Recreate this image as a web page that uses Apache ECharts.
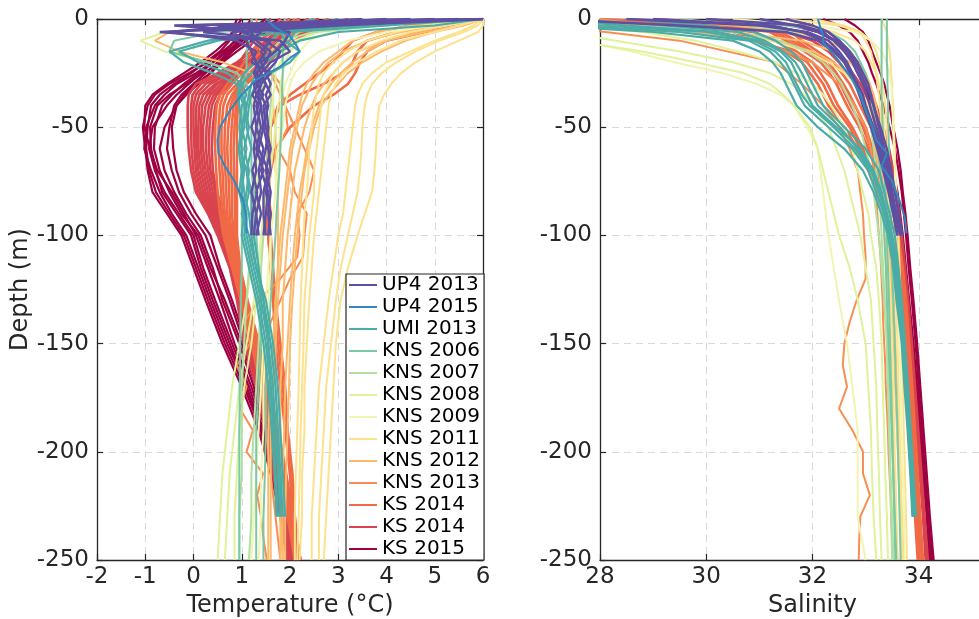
<!DOCTYPE html>
<html>
<head>
<meta charset="utf-8">
<script src="https://cdn.jsdelivr.net/npm/echarts@6/dist/echarts.min.js"></script>
<style>
html,body{margin:0;padding:0;background:#fff;}
#chart{width:979px;height:619px;}
</style>
</head>
<body>
<div id="chart"></div>
<script>
// Standard sampling depths (m, negative downward)
const depthLevels = [0,-3,-6,-10,-15,-20,-25,-30,-35,-40,-50,-60,-70,-80,-90,-100,-115,-130,-150,-170,-190,-210,-230,-250];
const up4_2015Depth = [0,-4,-8,-11,-15,-18,-22,-28,-35,-42,-50,-56,-62,-68,-75,-84,-92,-99];
const kns2013Depth = [0,-10,-20,-30,-40,-50,-60,-70,-80,-90,-100,-110,-120,-130,-140,-150,-160,-170,-180,-190,-200,-210,-220,-230,-240,-250];

// Axis ticks
const tempTicks = [-2,-1,0,1,2,3,4,5,6];
const salTicks = [28,30,32,34,36];
const depthTicks = [-250,-200,-150,-100,-50,0];

// Legend entries (display order)
const legendNames = ['UP4 2013','UP4 2015','UMI 2013','KNS 2006','KNS 2007','KNS 2008','KNS 2009','KNS 2011','KNS 2012','KNS 2013','KS 2014','KS 2014 ','KS 2015'];
const legendColors = ['#5e4fa2','#3288bd','#4aaca6','#78c9a4','#b2dfa1','#e0f29a','#f2f4b1','#fde28e','#fdb96b','#f98e52','#f06a45','#d8434e','#9e0142'];

// ---- Temperature profiles (°C) ----
const ks2015Temp = [
  [1.5,1.3,1.1,0.9,0.6,0.3,-0.1,-0.5,-0.8,-0.95,-1.05,-1.0,-0.95,-0.85,-0.55,-0.25,0.0,0.25,0.6,1.0,1.35,1.6,1.8,1.95],
  [2.0,1.6,1.3,1.0,0.7,0.4,0.05,-0.35,-0.6,-0.8,-0.98,-1.02,-0.88,-0.7,-0.45,-0.15,0.1,0.35,0.7,1.1,1.4,1.65,1.85,2.0],
  [1.2,1.1,1.0,0.85,0.65,0.4,0.15,-0.1,-0.35,-0.55,-0.85,-0.92,-0.8,-0.6,-0.3,0.0,0.2,0.45,0.8,1.15,1.45,1.7,1.9,2.05],
  [2.6,2.0,1.5,1.1,0.8,0.55,0.35,0.1,-0.15,-0.35,-0.6,-0.7,-0.6,-0.4,-0.15,0.15,0.4,0.6,0.95,1.25,1.5,1.75,1.95,2.1],
  [0.9,0.85,0.8,0.7,0.45,0.15,-0.2,-0.55,-0.85,-1.0,-1.02,-0.9,-0.75,-0.45,-0.2,0.05,0.3,0.55,0.85,1.2,1.5,1.72,1.9,2.08],
  [1.8,1.5,1.2,0.95,0.7,0.4,0.1,-0.2,-0.45,-0.65,-0.8,-0.82,-0.7,-0.5,-0.25,0.1,0.35,0.65,1.0,1.3,1.55,1.78,1.98,2.15],
  [2.2,1.8,1.4,1.0,0.75,0.5,0.25,0.0,-0.25,-0.4,-0.5,-0.55,-0.45,-0.3,-0.05,0.25,0.5,0.75,1.05,1.35,1.6,1.82,2.0,2.2],
  [1.0,0.9,0.8,0.75,0.55,0.25,-0.05,-0.4,-0.7,-0.88,-0.95,-0.98,-0.92,-0.78,-0.5,-0.2,0.05,0.3,0.65,1.05,1.4,1.62,1.82,2.0],
  [1.6,1.4,1.2,1.0,0.8,0.6,0.35,0.05,-0.2,-0.35,-0.45,-0.42,-0.35,-0.2,0.05,0.35,0.55,0.8,1.1,1.4,1.65,1.85,2.05,2.22],
  [2.4,1.9,1.5,1.2,0.9,0.6,0.2,-0.15,-0.5,-0.75,-0.9,-0.88,-0.78,-0.65,-0.35,-0.05,0.15,0.4,0.75,1.1,1.42,1.66,1.86,2.02]
];
const ks2014bTemp = [
  [2.0,1.8,1.6,1.4,1.2,0.9,0.5,0.05,-0.1,-0.12,-0.12,-0.1,-0.05,0.05,0.3,0.5,0.75,0.9,1.05,1.3,1.5,1.65,1.8,1.95],
  [2.4,2.1,1.8,1.55,1.3,1.0,0.6,0.15,-0.02,-0.05,-0.05,-0.04,0.0,0.1,0.34,0.55,0.78,0.93,1.1,1.33,1.52,1.68,1.83,1.98],
  [2.8,2.4,2.0,1.7,1.4,1.1,0.7,0.25,0.05,0.0,0.0,0.02,0.05,0.15,0.38,0.58,0.8,0.95,1.12,1.35,1.55,1.7,1.85,2.0],
  [1.6,1.5,1.4,1.25,1.1,0.95,0.75,0.35,0.12,0.06,0.05,0.06,0.1,0.2,0.42,0.62,0.83,0.97,1.15,1.38,1.58,1.72,1.88,2.03],
  [3.2,2.8,2.3,1.9,1.6,1.3,0.9,0.45,0.2,0.12,0.1,0.1,0.15,0.25,0.45,0.65,0.85,0.98,1.18,1.4,1.6,1.75,1.9,2.05],
  [2.2,1.9,1.7,1.5,1.25,1.05,0.8,0.5,0.28,0.18,0.15,0.15,0.2,0.3,0.48,0.68,0.87,1.0,1.2,1.43,1.62,1.78,1.93,2.08],
  [2.6,2.2,1.9,1.6,1.35,1.15,0.9,0.58,0.35,0.25,0.2,0.2,0.25,0.35,0.52,0.72,0.88,1.0,1.22,1.45,1.65,1.8,1.95,2.1],
  [3.0,2.6,2.2,1.8,1.5,1.25,1.0,0.65,0.42,0.32,0.27,0.26,0.3,0.4,0.56,0.76,0.9,1.02,1.25,1.47,1.67,1.82,1.97,2.12],
  [2.5,2.2,1.9,1.65,1.45,1.25,1.05,0.7,0.48,0.38,0.33,0.32,0.35,0.45,0.6,0.8,0.92,1.03,1.28,1.5,1.7,1.85,2.0,2.15],
  [1.9,1.8,1.7,1.55,1.4,1.2,1.0,0.75,0.55,0.45,0.4,0.38,0.4,0.48,0.63,0.83,0.94,1.05,1.3,1.52,1.72,1.87,2.02,2.17]
];
const ks2014aTemp = [
  [2.0,1.8,1.6,1.4,1.2,1.05,0.9,0.7,0.55,0.48,0.45,0.45,0.47,0.5,0.55,0.62,0.8,0.98,1.2,1.4,1.6,1.8,1.95,2.1],
  [2.2,2.0,1.8,1.6,1.4,1.2,1.0,0.8,0.62,0.55,0.52,0.52,0.54,0.57,0.6,0.67,0.83,1.0,1.22,1.42,1.62,1.8,1.96,2.11],
  [2.5,2.3,2.1,1.9,1.65,1.4,1.15,0.9,0.7,0.62,0.58,0.58,0.6,0.62,0.65,0.71,0.85,1.02,1.25,1.45,1.65,1.82,1.97,2.12],
  [1.8,1.7,1.55,1.4,1.3,1.2,1.05,0.95,0.8,0.7,0.65,0.64,0.66,0.68,0.7,0.75,0.88,1.04,1.28,1.48,1.68,1.84,1.99,2.14],
  [2.8,2.5,2.2,1.95,1.7,1.45,1.2,1.0,0.85,0.77,0.72,0.7,0.72,0.74,0.75,0.79,0.9,1.06,1.3,1.5,1.7,1.86,2.01,2.16],
  [2.4,2.2,2.0,1.8,1.6,1.4,1.25,1.05,0.9,0.83,0.79,0.77,0.78,0.8,0.8,0.83,0.93,1.08,1.32,1.52,1.72,1.88,2.03,2.18],
  [3.0,2.7,2.4,2.1,1.8,1.55,1.35,1.1,0.95,0.88,0.85,0.83,0.84,0.86,0.86,0.87,0.95,1.1,1.34,1.54,1.74,1.9,2.05,2.2],
  [2.1,1.95,1.8,1.65,1.5,1.35,1.2,1.05,0.95,0.92,0.9,0.9,0.9,0.9,0.9,0.9,0.97,1.12,1.36,1.56,1.76,1.92,2.07,2.22],
  [6.0,5.0,4.2,3.6,3.4,3.3,3.1,2.7,2.2,1.8,1.6,1.55,1.5,1.5,1.5,1.55,1.6,1.65,1.7,1.8,1.9,2.0,2.05,2.1],
  [5.5,4.5,3.8,3.3,3.1,2.9,2.6,2.3,2.0,1.75,1.6,1.6,1.55,1.5,1.55,1.55,1.6,1.65,1.75,1.85,1.95,2.0,2.1,2.15],
  [6.0,5.5,4.8,4.0,3.6,3.45,3.35,3.2,2.9,2.5,2.0,1.7,1.6,1.55,1.6,1.6,1.65,1.7,1.8,1.9,1.95,2.05,2.1,2.2]
];
const kns2013Temp = [
  [1.3,1.4,1.45,1.8,1.9,1.95,1.75,2.0,2.1,2.35,2.3,2.27,2.0,1.8,1.6,1.5,1.45,1.4,1.45,1.5,1.55,1.6,1.65,1.7,1.75,1.8],
  [1.2,1.3,1.5,1.7,1.9,2.1,2.3,2.5,2.4,2.15,2.2,2.15,1.8,1.35,1.05,1.17,0.9,1.1,0.96,1.23,1.1,1.44,1.32,1.4,1.45,1.52]
];
const kns2012Temp = [
  [6.0,2.0,-0.5,-0.8,-0.3,0.6,1.2,1.5,1.6,1.65,1.7,1.7,1.7,1.75,1.75,1.75,1.75,1.7,1.7,1.7,1.75,1.8,1.8,1.85],
  [6.0,5.5,4.8,4.0,3.4,3.1,2.9,2.7,2.55,2.45,2.3,2.2,2.1,2.05,2.0,1.95,1.9,1.85,1.85,1.8,1.8,1.8,1.8,1.8],
  [5.5,5.0,4.3,3.6,3.1,2.8,2.6,2.45,2.35,2.25,2.15,2.05,2.0,1.95,1.9,1.85,1.8,1.75,1.7,1.65,1.6,1.6,1.6,1.6],
  [6.0,4.5,3.8,3.3,3.0,2.7,2.5,2.35,2.25,2.2,2.1,2.0,1.95,1.9,1.85,1.8,1.75,1.7,1.65,1.6,1.55,1.55,1.55,1.55],
  [6.0,5.6,5.0,4.4,3.9,3.5,3.2,3.0,2.8,2.65,2.5,2.4,2.3,2.25,2.2,2.15,2.1,2.05,2.0,1.98,1.95,1.92,1.9,1.9],
  [5.8,5.2,4.6,4.0,3.6,3.3,3.05,2.85,2.7,2.6,2.45,2.35,2.28,2.2,2.15,2.1,2.05,2.0,1.95,1.9,1.88,1.85,1.85,1.85]
];
const kns2011Temp = [
  [6.0,6.0,5.9,5.5,5.0,4.6,4.3,4.1,3.95,3.85,3.8,3.78,3.75,3.7,3.55,3.4,3.2,3.05,2.95,2.9,2.85,2.8,2.75,2.7],
  [6.0,5.8,5.5,5.0,4.5,4.0,3.7,3.5,3.4,3.35,3.3,3.25,3.2,3.15,3.1,3.0,2.9,2.8,2.7,2.6,2.55,2.5,2.45,2.45],
  [6.0,5.5,5.0,4.3,3.8,3.4,3.1,2.95,2.85,2.8,2.75,2.7,2.65,2.6,2.55,2.5,2.45,2.4,2.35,2.3,2.3,2.25,2.25,2.2],
  [5.5,4.8,4.2,3.6,3.2,2.9,2.7,2.6,2.55,2.5,2.45,2.4,2.38,2.35,2.3,2.28,2.25,2.22,2.2,2.18,2.15,2.12,2.1,2.1],
  [6.0,5.2,4.5,3.9,3.4,3.1,2.9,2.8,2.7,2.65,2.6,2.55,2.5,2.5,2.45,2.4,2.35,2.3,2.28,2.25,2.22,2.2,2.18,2.15],
  [6.0,5.9,5.6,5.1,4.6,4.2,3.9,3.7,3.6,3.55,3.5,3.48,3.45,3.4,3.3,3.2,3.05,2.95,2.85,2.75,2.7,2.65,2.6,2.6]
];
const kns2009Temp = [
  [6.0,5.0,4.0,3.2,2.6,2.3,2.1,2.0,1.95,1.9,1.85,1.8,1.75,1.7,1.65,1.6,1.55,1.5,1.45,1.4,1.35,1.3,1.25,1.2],
  [4.5,3.5,2.8,2.4,2.2,2.1,2.0,1.9,1.85,1.8,1.8,1.75,1.7,1.7,1.65,1.6,1.6,1.55,1.5,1.45,1.45,1.4,1.4,1.35]
];
const kns2008Temp = [
  [6.0,2.5,-0.6,-1.1,-0.6,0.3,0.9,1.1,1.2,1.25,1.3,1.35,1.35,1.3,1.3,1.25,1.2,1.1,0.95,0.8,0.7,0.6,0.55,0.5],
  [4.0,3.0,2.5,2.2,2.0,1.9,1.85,1.8,1.8,1.75,1.7,1.65,1.6,1.55,1.5,1.45,1.35,1.25,1.1,0.95,0.85,0.75,0.7,0.65],
  [5.0,3.5,2.6,2.1,1.9,1.8,1.7,1.7,1.65,1.65,1.6,1.6,1.55,1.5,1.45,1.4,1.35,1.3,1.2,1.05,0.95,0.9,0.85,0.85]
];
const kns2007Temp = [
  [5.5,4.0,2.5,1.8,1.6,1.5,1.5,1.45,1.4,1.4,1.35,1.3,1.3,1.25,1.2,1.2,1.15,1.1,1.05,1.0,1.0,1.0,0.95,0.95],
  [3.5,2.8,2.2,1.9,1.75,1.7,1.65,1.6,1.6,1.6,1.55,1.55,1.5,1.5,1.45,1.45,1.4,1.4,1.35,1.3,1.25,1.2,1.2,1.15]
];
const kns2006Temp = [
  [1.2,1.2,1.15,1.15,1.1,1.1,1.1,1.05,1.05,1.05,1.0,1.0,1.0,1.0,1.0,1.0,1.0,0.98,0.97,0.96,0.95,0.95,0.95,0.95],
  [1.9,1.88,1.87,1.86,1.85,1.85,1.85,1.84,1.84,1.83,1.82,1.8,1.78,1.75,1.72,1.7,1.65,1.6,1.55,1.5,1.5,1.48,1.45,1.45],
  [6.0,3.0,0.5,-0.4,-0.5,0.3,0.9,1.1,1.15,1.2,1.2,1.2,1.2,1.25,1.25,1.3,1.35,1.4,1.4,1.35,1.3,1.3,1.3,1.3]
];
const umi2013Temp = [
  [6.0,4.0,2.0,0.5,-0.3,0.1,0.7,1.0,1.1,1.0,0.95,1.0,1.05,1.0,1.1,1.05,1.2,1.35,1.5,1.6,1.65,1.7,1.75],
  [5.0,3.5,1.5,0.3,-0.5,-0.2,0.4,0.9,1.0,1.1,1.05,0.95,1.1,1.15,1.05,1.1,1.25,1.4,1.55,1.65,1.7,1.8,1.85],
  [4.0,2.5,1.8,1.6,1.5,1.4,1.3,1.2,1.15,1.1,1.0,1.1,1.0,1.05,1.15,1.2,1.3,1.45,1.6,1.7,1.75,1.8,1.8],
  [6.0,5.0,3.0,2.2,1.8,1.5,1.2,1.0,0.95,1.05,1.15,1.05,1.15,1.1,1.0,1.15,1.3,1.5,1.65,1.75,1.8,1.85,1.9],
  [2.5,2.0,1.8,1.9,2.2,2.0,1.6,1.3,1.2,1.15,1.1,1.2,1.1,1.2,1.2,1.25,1.35,1.45,1.55,1.6,1.7,1.75,1.8],
  [3.0,2.4,2.1,2.0,1.7,1.3,1.05,0.95,0.92,0.95,1.0,0.93,1.0,0.95,1.05,1.0,1.15,1.3,1.45,1.55,1.62,1.68,1.72]
];
const up4_2013Temp = [
  [6.0,2.5,-0.7,1.6,1.4,1.5,1.3,1.4,1.35,1.4,1.3,1.45,1.35,1.4,1.3,1.35],
  [5.5,0.5,2.0,1.9,1.7,1.4,1.5,1.3,1.45,1.3,1.4,1.3,1.45,1.3,1.4,1.3],
  [4.5,-0.2,1.2,1.3,1.6,1.5,1.3,1.5,1.4,1.5,1.55,1.5,1.4,1.55,1.5,1.45],
  [6.0,3.0,0.8,1.1,1.2,1.3,1.4,1.25,1.3,1.25,1.3,1.25,1.3,1.2,1.3,1.25],
  [5.0,1.5,0.2,1.8,2.0,1.6,1.4,1.5,1.6,1.45,1.5,1.6,1.5,1.6,1.55,1.6],
  [3.5,1.0,-0.5,0.9,1.3,1.2,1.6,1.4,1.3,1.4,1.45,1.35,1.55,1.45,1.45,1.5],
  [4.0,2.0,1.0,1.5,1.8,1.7,1.5,1.6,1.5,1.55,1.45,1.55,1.6,1.5,1.6,1.55],
  [6.0,-0.4,1.4,1.2,1.5,1.35,1.25,1.35,1.22,1.35,1.2,1.35,1.22,1.32,1.22,1.2]
];
const up4_2015Temp = [
  [1.5,1.7,2.0,2.1,2.2,2.0,1.8,1.3,1.0,0.76,0.55,0.5,0.52,0.65,0.85,1.03,1.1,1.1]
];

// ---- Salinity profiles ----
const ks2015Sal = [
  [31.5,32.0,32.3,32.5,32.65,32.8,32.9,33.0,33.08,33.15,33.3,33.42,33.52,33.6,33.65,33.7,33.76,33.82,33.9,33.97,34.03,34.1,34.16,34.22],
  [32.2,32.5,32.7,32.85,32.95,33.05,33.12,33.2,33.27,33.33,33.45,33.55,33.62,33.68,33.72,33.76,33.81,33.87,33.94,34.0,34.06,34.12,34.18,34.25],
  [30.5,31.6,32.1,32.4,32.6,32.75,32.85,32.95,33.05,33.12,33.25,33.38,33.48,33.56,33.62,33.68,33.74,33.8,33.88,33.95,34.02,34.08,34.15,34.2],
  [32.6,32.8,32.95,33.05,33.12,33.2,33.28,33.35,33.4,33.45,33.52,33.6,33.66,33.7,33.75,33.79,33.84,33.9,33.97,34.03,34.09,34.15,34.21,34.28]
];
const ks2014bSal = [
  [30.0,31.2,31.8,32.15,32.4,32.6,32.75,32.9,33.0,33.1,33.25,33.38,33.47,33.55,33.6,33.66,33.72,33.78,33.85,33.92,33.98,34.04,34.1,34.15],
  [31.5,32.0,32.3,32.5,32.7,32.85,32.95,33.05,33.12,33.2,33.33,33.44,33.52,33.58,33.63,33.68,33.74,33.8,33.87,33.93,33.99,34.05,34.11,34.17],
  [29.0,30.5,31.5,32.0,32.3,32.5,32.65,32.8,32.92,33.02,33.18,33.32,33.42,33.5,33.57,33.63,33.7,33.76,33.83,33.9,33.96,34.02,34.08,34.13]
];
const ks2014aSal = [
  [26.0,29.0,30.5,31.0,31.5,31.8,31.95,32.1,32.2,32.3,32.6,32.85,33.05,33.2,33.35,33.45,33.55,33.62,33.7,33.76,33.82,33.88,33.93,33.98],
  [27.0,29.8,30.9,31.3,31.7,32.0,32.15,32.28,32.38,32.48,32.75,32.95,33.12,33.28,33.42,33.5,33.6,33.66,33.74,33.8,33.86,33.91,33.96,34.01],
  [28.0,30.3,31.2,31.5,31.85,32.15,32.32,32.45,32.55,32.65,32.88,33.05,33.2,33.34,33.47,33.55,33.64,33.7,33.78,33.84,33.89,33.94,33.99,34.04],
  [29.0,30.8,31.4,31.7,32.0,32.3,32.45,32.58,32.7,32.8,33.0,33.13,33.28,33.4,33.52,33.6,33.68,33.74,33.8,33.86,33.91,33.96,34.01,34.06],
  [30.0,31.2,31.6,31.8,32.1,32.4,32.55,32.7,32.8,32.9,33.1,33.2,33.35,33.45,33.55,33.62,33.7,33.76,33.82,33.88,33.93,33.98,34.03,34.08],
  [25.0,28.5,30.2,30.9,31.6,31.9,32.05,32.2,32.3,32.4,32.7,32.9,33.08,33.24,33.38,33.48,33.58,33.64,33.72,33.78,33.84,33.9,33.95,34.0],
  [28.5,30.6,31.3,31.6,31.95,32.22,32.4,32.52,32.62,32.72,32.95,33.1,33.24,33.37,33.5,33.57,33.66,33.72,33.79,33.85,33.9,33.95,34.0,34.05]
];
const kns2013Sal = [
  [26.0,29.5,31.3,31.8,32.2,32.5,32.7,32.85,32.9,32.95,32.97,33.0,33.0,32.83,32.7,32.6,32.57,32.65,32.5,32.75,32.95,32.95,33.08,32.9,32.88,32.87],
  [28.0,31.0,32.0,32.5,32.8,33.0,33.1,33.15,33.2,33.22,33.25,33.28,33.3,33.32,33.33,33.35,33.37,33.38,33.4,33.42,33.43,33.45,33.47,33.48,33.5,33.52]
];
const kns2012Sal = [
  [25.0,27.0,29.5,31.3,32.0,32.4,32.65,32.8,32.9,33.0,33.1,33.18,33.25,33.3,33.33,33.36,33.4,33.43,33.46,33.5,33.52,33.55,33.57,33.6],
  [27.0,28.5,30.5,31.8,32.4,32.7,32.9,33.0,33.1,33.15,33.22,33.28,33.32,33.36,33.4,33.43,33.46,33.5,33.53,33.56,33.59,33.62,33.65,33.68],
  [29.0,30.5,31.7,32.3,32.65,32.85,33.0,33.08,33.15,33.2,33.27,33.32,33.36,33.4,33.43,33.46,33.5,33.53,33.56,33.59,33.62,33.65,33.68,33.72]
];
const kns2011Sal = [
  [31.5,32.5,32.9,33.1,33.2,33.25,33.3,33.32,33.35,33.37,33.4,33.42,33.45,33.47,33.5,33.52,33.55,33.57,33.6,33.62,33.64,33.66,33.68,33.7],
  [32.0,32.6,32.9,33.0,33.1,33.15,33.2,33.22,33.25,33.27,33.3,33.32,33.35,33.36,33.38,33.4,33.42,33.44,33.46,33.48,33.5,33.52,33.55,33.58],
  [30.5,31.8,32.4,32.8,33.0,33.1,33.2,33.25,33.3,33.32,33.35,33.38,33.4,33.42,33.45,33.48,33.5,33.52,33.55,33.57,33.6,33.63,33.66,33.7],
  [33.3,33.35,33.4,33.42,33.45,33.47,33.48,33.5,33.5,33.52,33.53,33.55,33.56,33.58,33.6,33.62,33.64,33.66,33.68,33.7,33.72,33.74,33.76,33.78],
  [26.0,28.0,30.0,31.2,31.9,32.3,32.6,32.8,32.95,33.05,33.15,33.22,33.28,33.32,33.36,33.4,33.44,33.47,33.5,33.52,33.54,33.56,33.58,33.6]
];
const kns2009Sal = [
  [22.0,23.5,25.5,27.6,28.6,29.4,30.3,30.95,31.4,31.65,31.9,32.1,32.15,32.2,32.25,32.3,32.4,32.5,32.65,32.75,32.85,32.85,32.85,33.0],
  [30.5,32.0,32.8,33.1,33.3,33.4,33.45,33.48,33.5,33.5,33.52,33.53,33.55,33.56,33.57,33.58,33.6,33.62,33.64,33.66,33.68,33.7,33.72,33.74]
];
const kns2008Sal = [
  [24.0,25.5,26.5,27.5,28.8,29.8,30.7,31.2,31.45,31.65,31.95,32.1,32.2,32.3,32.4,32.5,32.7,32.85,33.0,33.05,33.1,33.12,33.15,33.2],
  [24.5,26.0,27.3,28.3,29.5,30.5,31.2,31.6,31.85,32.0,32.3,32.45,32.6,32.7,32.8,32.9,33.0,33.1,33.15,33.2,33.22,33.25,33.27,33.3],
  [26.0,27.5,28.8,29.8,30.6,31.3,31.7,32.0,32.2,32.35,32.6,32.75,32.85,32.95,33.05,33.1,33.2,33.25,33.3,33.32,33.35,33.37,33.4,33.42]
];
const kns2007Sal = [
  [27.5,29.0,30.5,31.4,31.9,32.2,32.4,32.55,32.65,32.75,32.9,33.0,33.1,33.15,33.2,33.25,33.3,33.35,33.4,33.42,33.45,33.47,33.5,33.52],
  [29.5,30.8,31.6,32.1,32.4,32.6,32.75,32.85,32.95,33.0,33.1,33.15,33.2,33.25,33.28,33.3,33.33,33.36,33.4,33.42,33.44,33.46,33.48,33.5]
];
const kns2006Sal = [
  [33.3,33.3,33.3,33.3,33.3,33.3,33.3,33.3,33.3,33.31,33.32,33.33,33.35,33.37,33.39,33.4,33.42,33.44,33.46,33.48,33.5,33.52,33.54,33.56],
  [33.4,33.4,33.4,33.4,33.4,33.4,33.41,33.41,33.42,33.42,33.43,33.44,33.45,33.46,33.47,33.48,33.5,33.52,33.55,33.57,33.6,33.62,33.64,33.66],
  [30.0,31.5,32.3,32.6,32.8,32.9,33.0,33.05,33.1,33.12,33.18,33.22,33.28,33.3,33.33,33.35,33.38,33.4,33.43,33.46,33.49,33.52,33.55,33.58]
];
const umi2013Sal = [
  [26.0,27.5,29.5,30.8,31.2,31.4,31.55,31.65,31.75,31.85,32.3,32.75,33.05,33.2,33.35,33.45,33.55,33.6,33.7,33.75,33.8,33.85,33.9],
  [27.0,28.5,30.2,31.0,31.4,31.6,31.7,31.8,31.9,32.0,32.45,32.9,33.15,33.3,33.4,33.5,33.6,33.65,33.72,33.78,33.82,33.87,33.92],
  [25.0,27.0,29.0,30.5,31.0,31.25,31.4,31.5,31.6,31.7,32.1,32.6,32.95,33.15,33.3,33.42,33.52,33.58,33.68,33.73,33.79,33.84,33.88],
  [28.5,30.0,30.9,31.3,31.6,31.8,31.9,32.0,32.1,32.2,32.6,33.0,33.25,33.35,33.45,33.55,33.62,33.68,33.74,33.8,33.85,33.9,33.95],
  [26.5,28.0,30.0,30.9,31.3,31.5,31.6,31.7,31.8,31.95,32.4,32.8,33.1,33.25,33.38,33.48,33.58,33.64,33.7,33.76,33.82,33.86,33.9],
  [27.5,29.2,30.6,31.1,31.45,31.68,31.8,31.9,32.0,32.1,32.52,32.85,33.12,33.28,33.4,33.5,33.58,33.63,33.71,33.77,33.83,33.88,33.93]
];
const up4_2013Sal = [
  [28.5,31.0,31.9,32.3,32.5,32.65,32.75,32.85,32.95,33.0,33.15,33.28,33.38,33.48,33.55,33.65],
  [30.0,31.8,32.2,32.4,32.6,32.75,32.85,32.95,33.02,33.08,33.2,33.32,33.42,33.5,33.58,33.66],
  [31.5,32.0,32.3,32.5,32.7,32.85,32.95,33.05,33.1,33.15,33.25,33.35,33.45,33.55,33.62,33.7],
  [27.0,29.5,31.5,32.1,32.4,32.6,32.72,32.82,32.9,32.98,33.12,33.25,33.35,33.45,33.52,33.6],
  [31.0,31.7,32.1,32.45,32.65,32.8,32.9,33.0,33.08,33.15,33.28,33.4,33.48,33.56,33.62,33.68],
  [29.0,31.2,31.8,32.2,32.45,32.6,32.7,32.8,32.88,32.95,33.1,33.22,33.33,33.43,33.52,33.6]
];
const up4_2015Sal = [
  [32.1,32.15,32.2,32.2,32.35,32.45,32.57,32.75,32.9,33.0,33.13,33.2,33.4,33.3,33.5,33.64,33.74,33.77]
];

// Drawing order (first drawn sits underneath); band groups drawn a little thicker
const groups = [
  {name:'KS 2015',  color:legendColors[12], width:2.2, depth:depthLevels,   temp:ks2015Temp,   sal:ks2015Sal},
  {name:'KS 2014 ', color:legendColors[11], width:2.6, depth:depthLevels,   temp:ks2014bTemp,  sal:ks2014bSal},
  {name:'KS 2014',  color:legendColors[10], width:2.6, depth:depthLevels,   temp:ks2014aTemp,  sal:ks2014aSal},
  {name:'KNS 2013', color:legendColors[9],  width:2,   depth:kns2013Depth,  temp:kns2013Temp,  sal:kns2013Sal},
  {name:'KNS 2012', color:legendColors[8],  width:2,   depth:depthLevels,   temp:kns2012Temp,  sal:kns2012Sal},
  {name:'KNS 2011', color:legendColors[7],  width:2,   depth:depthLevels,   temp:kns2011Temp,  sal:kns2011Sal},
  {name:'KNS 2009', color:legendColors[6],  width:2,   depth:depthLevels,   temp:kns2009Temp,  sal:kns2009Sal},
  {name:'KNS 2008', color:legendColors[5],  width:2,   depth:depthLevels,   temp:kns2008Temp,  sal:kns2008Sal},
  {name:'KNS 2007', color:legendColors[4],  width:2,   depth:depthLevels,   temp:kns2007Temp,  sal:kns2007Sal},
  {name:'KNS 2006', color:legendColors[3],  width:2,   depth:depthLevels,   temp:kns2006Temp,  sal:kns2006Sal},
  {name:'UMI 2013', color:legendColors[2],  width:2.2, depth:depthLevels,   temp:umi2013Temp,  sal:umi2013Sal},
  {name:'UP4 2013', color:legendColors[0],  width:2.4, depth:depthLevels,   temp:up4_2013Temp, sal:up4_2013Sal},
  {name:'UP4 2015', color:legendColors[1],  width:2,   depth:up4_2015Depth, temp:up4_2015Temp, sal:up4_2015Sal}
];

const FONT = '"DejaVu Sans", Verdana, sans-serif';
const INK = '#262626';

const series = [];
groups.forEach(g => {
  const add = (profiles, xi, yi) => profiles.forEach(p => {
    series.push({
      type: 'line', name: g.name, xAxisIndex: xi, yAxisIndex: yi,
      data: p.map((v, j) => [v, g.depth[j]]),
      showSymbol: false, symbol: 'none', silent: true, clip: true,
      lineStyle: {width: g.width, color: g.color}, itemStyle: {color: g.color},
      emphasis: {disabled: true}
    });
  });
  add(g.temp, 0, 0);
  add(g.sal, 2, 2);
});

const gridLine = {show: true, lineStyle: {color: '#d9d9d9', width: 1, type: [7, 5]}};
const axisLineStyle = {show: true, onZero: false, lineStyle: {color: INK, width: 1.3}};
const tick = {show: true, inside: true, length: 6, lineStyle: {color: INK, width: 1.2}};
const tickLabel = {color: INK, fontFamily: FONT, fontSize: 23};
const titleStyle = {color: INK, fontFamily: FONT, fontSize: 24};

function xAxes(gridIndex, lo, hi, step, title) {
  return [
    {type: 'value', gridIndex, min: lo, max: hi, interval: step, position: 'bottom',
     name: title, nameLocation: 'middle', nameGap: 30, nameTextStyle: titleStyle,
     axisLine: axisLineStyle, axisTick: tick, splitLine: gridLine,
     axisLabel: Object.assign({margin: 6}, tickLabel)},
    {type: 'value', gridIndex, min: lo, max: hi, interval: step, position: 'top',
     axisLine: axisLineStyle, axisTick: tick, splitLine: {show: false}, axisLabel: {show: false}}
  ];
}
function yAxes(gridIndex, title) {
  const main = {type: 'value', gridIndex, min: depthTicks[0], max: depthTicks[depthTicks.length - 1], interval: 50,
    position: 'left', axisLine: axisLineStyle, axisTick: tick, splitLine: gridLine,
    axisLabel: Object.assign({margin: 8}, tickLabel)};
  if (title) Object.assign(main, {name: title, nameLocation: 'middle', nameGap: 54, nameRotate: 90, nameTextStyle: titleStyle});
  return [main,
    {type: 'value', gridIndex, min: -250, max: 0, interval: 50, position: 'right',
     axisLine: axisLineStyle, axisTick: tick, splitLine: {show: false}, axisLabel: {show: false}}];
}

const chart = echarts.init(document.getElementById('chart'), null, {renderer: 'canvas', width: 979, height: 619});
chart.setOption({
  animation: false,
  backgroundColor: '#ffffff',
  grid: [
    {left: 97, top: 19, width: 386, height: 541, outerBoundsMode: 'none'},
    {left: 600, top: 19, width: 425, height: 541, outerBoundsMode: 'none'}
  ],
  xAxis: [...xAxes(0, tempTicks[0], tempTicks[tempTicks.length - 1], 1, 'Temperature (°C)'),
          ...xAxes(1, salTicks[0], salTicks[salTicks.length - 1], 2, 'Salinity')],
  yAxis: [...yAxes(0, 'Depth (m)'), ...yAxes(1, null)],
  legend: {
    orient: 'vertical', left: 346, top: 274,
    data: legendNames, icon: 'rect', itemWidth: 28, itemHeight: 2, itemGap: 0,
    padding: [0, 4, 0, 3], itemTextGap: 3,
    backgroundColor: '#ffffff', borderColor: INK, borderWidth: 1.2, borderRadius: 0,
    selectedMode: false,
    textStyle: {color: '#000', fontFamily: FONT, fontSize: 20, lineHeight: 22}
  },
  series
});
</script>
</body>
</html>
